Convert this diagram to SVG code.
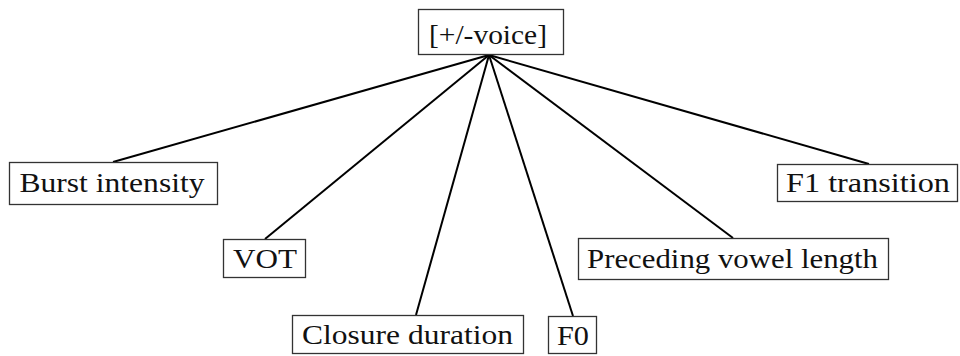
<svg xmlns="http://www.w3.org/2000/svg" width="960" height="356" viewBox="0 0 960 356">
<style>
.box{fill:#fff;stroke:#333;stroke-width:1.3}
.lbl{font-size:27px;fill:#111;text-anchor:middle}
.edge{stroke:#000;stroke-width:2;fill:none}
</style>
<rect width="960" height="356" fill="#fff"/>
<g id="connectors">
<line class="edge" x1="489" y1="55" x2="113" y2="162"/>
<line class="edge" x1="489" y1="55" x2="265" y2="239"/>
<line class="edge" x1="489" y1="55" x2="416" y2="315"/>
<line class="edge" x1="489" y1="55" x2="573" y2="316"/>
<line class="edge" x1="489" y1="55" x2="733" y2="238"/>
<line class="edge" x1="489" y1="55" x2="869" y2="164"/>
</g>
<g font-family="Liberation Serif, DejaVu Serif, serif">
<g id="voice">
<rect class="box" x="418.5" y="9.5" width="145" height="45"/>
<text class="lbl" x="488" y="44" textLength="118" lengthAdjust="spacingAndGlyphs">[+/-voice]</text>
</g>
<g id="burst">
<rect class="box" x="9.5" y="162.5" width="208" height="42"/>
<text class="lbl" x="112" y="192" textLength="185" lengthAdjust="spacingAndGlyphs">Burst intensity</text>
</g>
<g id="vot">
<rect class="box" x="223.5" y="239.5" width="82" height="38"/>
<text class="lbl" x="265" y="268" textLength="64" lengthAdjust="spacingAndGlyphs">VOT</text>
</g>
<g id="closure">
<rect class="box" x="292.5" y="315.5" width="231" height="38"/>
<text class="lbl" x="407.5" y="344" textLength="211" lengthAdjust="spacingAndGlyphs">Closure duration</text>
</g>
<g id="f0">
<rect class="box" x="548.5" y="316.5" width="48" height="37"/>
<text class="lbl" x="573" y="345" textLength="32" lengthAdjust="spacingAndGlyphs">F0</text>
</g>
<g id="preceding">
<rect class="box" x="578.5" y="238.5" width="310" height="41"/>
<text class="lbl" x="732.5" y="268" textLength="291" lengthAdjust="spacingAndGlyphs">Preceding vowel length</text>
</g>
<g id="f1">
<rect class="box" x="777.5" y="164.5" width="180" height="37"/>
<text class="lbl" x="868" y="192" textLength="164" lengthAdjust="spacingAndGlyphs">F1 transition</text>
</g>
</g>
</svg>
